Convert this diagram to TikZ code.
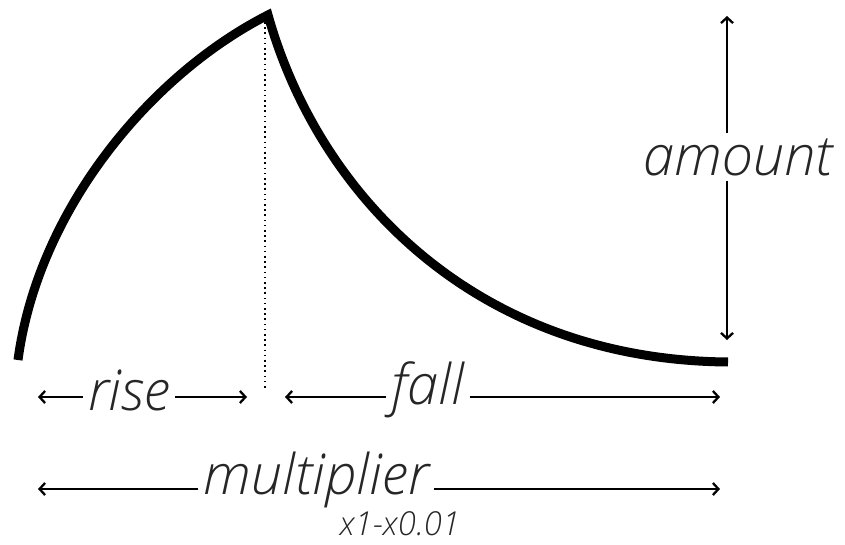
\documentclass[tikz,border=0pt]{standalone}
\usepackage{fontspec}
\setmainfont{Open Sans}[UprightFont=* Light, ItalicFont=* Light Italic]
\usetikzlibrary{arrows.meta}
\begin{document}
\begin{tikzpicture}[x=1pt,y=-1pt,
  curve/.style={line width=9pt, line join=miter},
  arr/.style={line width=2.3pt, -{Straight Barb[length=5.5pt,width=12pt,line width=2.3pt]}},
  lbl/.style={font=\itshape\fontsize{56}{56}\selectfont, inner sep=5pt, text=black!85},
  small/.style={font=\itshape\fontsize{33}{33}\selectfont, inner sep=0pt, text=black!85}]
\useasboundingbox (0,0) rectangle (845,545);
\coordinate (start) at (18,360);
\coordinate (peak) at (268,15);
\coordinate (finish) at (728,362);
\draw[curve] (start) .. controls (38,210) and (150,75) .. (peak)
  .. controls (320,200) and (480,360) .. (finish);
\coordinate (dtop) at (265,22);
\coordinate (dbot) at (265,390);
\draw[line width=1.6pt, dash pattern=on 1.6pt off 3.6pt] (dtop) -- (dbot);
% rise
\node[lbl] (rise) at (129,390) {rise};
\coordinate (ra) at (38,397);
\coordinate (rb) at (247,397);
\draw[arr] (rise.west |- ra) -- (ra);
\draw[arr] (rise.east |- rb) -- (rb);
% fall
\node[lbl] (fall) at (428,390) {fall};
\coordinate (fa) at (285,397);
\coordinate (fb) at (720,397);
\draw[arr] (fall.west |- fa) -- (fa);
\draw[arr] (fall.east |- fb) -- (fb);
% multiplier
\node[lbl] (mult) at (316,480) {multiplier};
\coordinate (ma) at (38,489);
\coordinate (mb) at (720,489);
\draw[arr] (mult.west |- ma) -- (ma);
\draw[arr] (mult.east |- mb) -- (mb);
\node[small] (range) at (400,524) {x1-x0.01};
% amount
\node[lbl] (amount) at (738,157) {amount};
\coordinate (aa) at (727,16);
\coordinate (ab) at (727,340);
\draw[arr] (amount.north -| aa) -- (aa);
\draw[arr] (amount.south -| ab) -- (ab);
\end{tikzpicture}
\end{document}
